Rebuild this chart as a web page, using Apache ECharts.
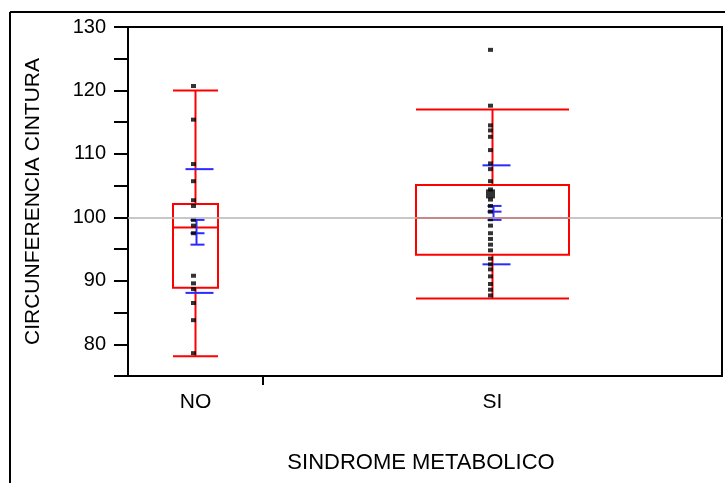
<!DOCTYPE html>
<html>
<head>
<meta charset="utf-8">
<script src="https://cdn.jsdelivr.net/npm/echarts@6/dist/echarts.min.js"></script>
<style>
  html, body { margin: 0; padding: 0; background: #fff; }
  #chart { width: 725px; height: 483px; }
</style>
</head>
<body>
<div id="chart"></div>
<script>
  // groups and their relative widths (group sizes)
  var groups = ['NO', 'SI'];
  var groupSizes = [15, 51];

  var valuesNO = [120.7, 115.4, 108.4, 105.7, 102.7, 101.8, 99.6, 98.7, 97.5, 90.8, 89.6, 88.7, 86.5, 83.8, 78.6];
  var valuesSI = [126.4, 117.6, 114.5, 113.7, 112.7, 110.6, 108.5, 107.6, 105.7, 104.4, 103.7, 103.7, 103.7, 102.8,
    101.8, 100.9, 99.7, 98.7, 97.5, 96.6, 95.7, 94.8, 93.5, 92.6, 91.8, 90.7, 89.5, 88.6, 87.7];

  // box stats per group: [whisker low, q1, median, q3, whisker high]
  var boxNO = [78.1, 88.9, 98.4, 102.1, 120.0];
  var boxSI = [87.2, 94.1, 99.9, 105.1, 117.0];

  // mean lines per group: [mean - sd, ci low, mean, ci high, mean + sd]
  var meanNO = [88.1, 95.7, 97.5, 99.6, 107.6];
  var meanSI = [92.6, 99.6, 100.9, 101.8, 108.2];

  var grandMean = 100;
  var yTicks = [75, 130, 5];

  var boxes = [boxNO, boxSI];
  var means = [meanNO, meanSI];
  var allValues = [valuesNO, valuesSI];

  var total = groupSizes[0] + groupSizes[1];
  var starts = [0, groupSizes[0]];
  var centers = [groupSizes[0] / 2, groupSizes[0] + groupSizes[1] / 2];

  var points = [];
  for (var g = 0; g < groups.length; g++) {
    var counts = {};
    allValues[g].forEach(function (v) { counts[v] = (counts[v] || 0) + 1; });
    Object.keys(counts).forEach(function (k) {
      points.push({ value: [centers[g], Number(k)], n: counts[k] });
    });
  }

  var RED = '#ff0000';
  var BLUE = '#2a2aff';

  function renderBox(params, api) {
    var g = api.value(0);
    var b = boxes[g], m = means[g];
    var c = centers[g];
    var half = groupSizes[g] / 6;
    var left = api.coord([c - half, b[0]])[0];
    var right = api.coord([c + half, b[0]])[0];
    var cx = api.coord([c, b[0]])[0];
    function y(v) { return api.coord([c, v])[1]; }
    var redStyle = { stroke: RED, lineWidth: 2, fill: null };
    var blueStyle = { stroke: BLUE, lineWidth: 2 };
    var ch = [];
    function line(x1, y1, x2, y2, st) {
      ch.push({ type: 'line', shape: { x1: x1, y1: y1, x2: x2, y2: y2 }, style: st });
    }
    // box
    ch.push({ type: 'rect', shape: { x: left, y: y(b[3]), width: right - left, height: y(b[1]) - y(b[3]) }, style: redStyle });
    line(left, y(b[2]), right, y(b[2]), redStyle);
    line(cx, y(b[3]), cx, y(b[4]), redStyle);
    line(cx, y(b[1]), cx, y(b[0]), redStyle);
    line(left, y(b[4]), right, y(b[4]), redStyle);
    line(left, y(b[0]), right, y(b[0]), redStyle);
    // mean / sd and ci
    line(cx - 10, y(m[0]), cx + 18, y(m[0]), blueStyle);
    line(cx - 10, y(m[4]), cx + 18, y(m[4]), blueStyle);
    line(cx - 5, y(m[1]), cx + 9, y(m[1]), blueStyle);
    line(cx - 5, y(m[2]), cx + 9, y(m[2]), blueStyle);
    line(cx - 5, y(m[3]), cx + 9, y(m[3]), blueStyle);
    line(cx + 1, y(m[1]), cx + 1, y(m[3]), blueStyle);
    return { type: 'group', children: ch };
  }

  var chart = echarts.init(document.getElementById('chart'));
  chart.setOption({
    animation: false,
    textStyle: { fontFamily: 'Liberation Sans' },
    grid: { left: 128, right: 3, top: 27, bottom: 107, show: true, borderColor: '#000', borderWidth: 2 },
    xAxis: {
      type: 'value',
      min: 0,
      max: total,
      name: 'SINDROME METABOLICO',
      nameLocation: 'middle',
      nameGap: 76,
      nameTextStyle: { color: '#000', fontSize: 22, fontFamily: 'Liberation Sans', padding: [0, 8, 0, 0] },
      axisLine: { lineStyle: { color: '#000', width: 2 } },
      axisTick: { customValues: [starts[1]], length: 9, lineStyle: { color: '#000', width: 2 } },
      axisLabel: {
        customValues: centers,
        color: '#000',
        fontSize: 21,
        margin: 16,
        formatter: function (v) { return v < starts[1] ? groups[0] : groups[1]; }
      },
      splitLine: { show: false }
    },
    yAxis: {
      type: 'value',
      min: yTicks[0],
      max: yTicks[1],
      interval: yTicks[2],
      name: 'CIRCUNFERENCIA CINTURA',
      nameLocation: 'middle',
      nameGap: 84,
      nameTextStyle: { color: '#000', fontSize: 21, fontFamily: 'Liberation Sans' },
      axisLine: { show: true, lineStyle: { color: '#000', width: 2 } },
      axisTick: { length: 14, lineStyle: { color: '#000', width: 2 } },
      axisLabel: {
        color: '#000',
        fontSize: 20,
        margin: 22,
        formatter: function (v) { return v % 10 === 0 ? String(v) : ''; }
      },
      splitLine: { show: false }
    },
    graphic: [
      { type: 'line', shape: { x1: 10, y1: 12, x2: 725, y2: 12 }, style: { stroke: '#000', lineWidth: 2 } },
      { type: 'line', shape: { x1: 10, y1: 12, x2: 10, y2: 483 }, style: { stroke: '#000', lineWidth: 2 } }
    ],
    series: [
      {
        type: 'scatter',
        data: [],
        markLine: {
          silent: true,
          symbol: 'none',
          label: { show: false },
          lineStyle: { color: '#b4b4b4', width: 1.5, type: 'solid' },
          data: [{ yAxis: grandMean }]
        },
        z: 1
      },
      {
        type: 'custom',
        renderItem: renderBox,
        data: [[0], [1]],
        encode: { x: -1, y: -1 },
        clip: false,
        z: 2
      },
      {
        type: 'scatter',
        symbol: 'rect',
        symbolSize: function (v, p) { return p.data.n > 1 ? 9 : [5, 4]; },
        symbolOffset: [-2, 0],
        itemStyle: { color: '#000' },
        data: points,
        z: 3
      }
    ]
  });
</script>
</body>
</html>
